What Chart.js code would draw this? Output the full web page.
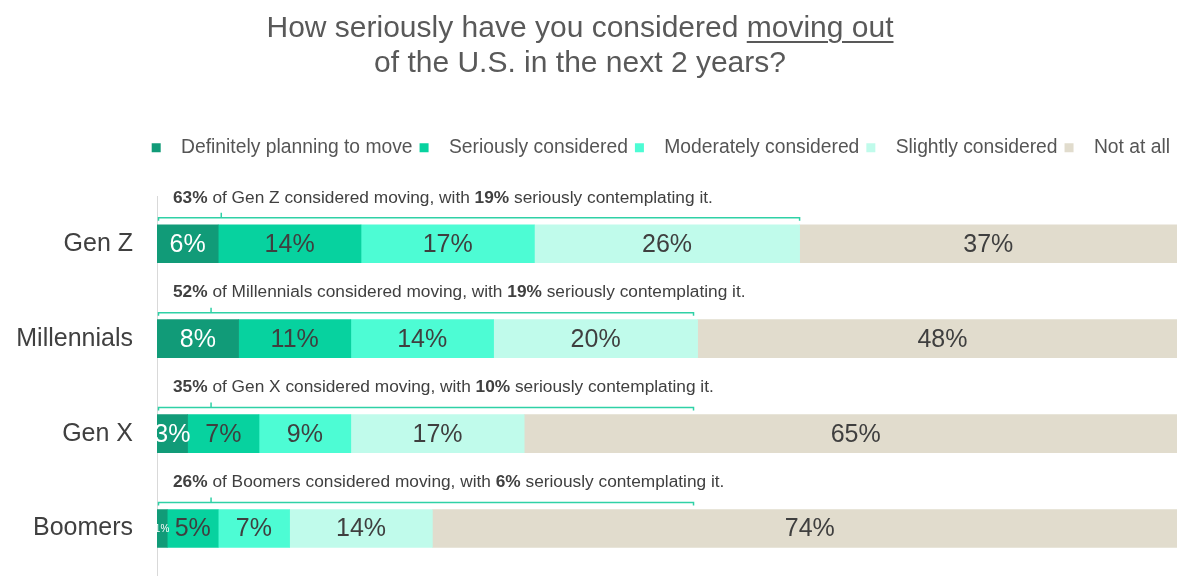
<!DOCTYPE html>
<html>
<head>
<meta charset="utf-8">
<script src="https://cdn.jsdelivr.net/npm/chart.js@4.4.1/dist/chart.umd.min.js"></script>
<style>
  html, body { margin: 0; padding: 0; background: #fff; overflow: hidden; }
  #wrap { position: relative; width: 1200px; height: 576px; }
  #title {
    position: absolute; left: 0; top: 9px; width: 1160px;
    text-align: center; font-family: "Liberation Sans", Arial, sans-serif;
    font-size: 30px; line-height: 35px; color: #595959;
  }
  #title u { text-decoration-thickness: 2px; text-underline-offset: 4px; }
  #moveChart { display: block; }
</style>
</head>
<body>
<div id="wrap">
  <div id="title">How seriously have you considered <u>moving out</u><br>of the U.S. in the next 2 years?</div>
  <canvas id="moveChart" width="1200" height="576"></canvas>
</div>
<script>
// data (percent of each generation)
const generations = ["Gen Z", "Millennials", "Gen X", "Boomers"];
const answers = ["Definitely planning to move", "Seriously considered", "Moderately considered", "Slightly considered", "Not at all"];
const definitely = [6, 8, 3, 1];
const seriously = [14, 11, 7, 5];
const moderately = [17, 14, 9, 7];
const slightly = [26, 20, 17, 14];
const notAtAll = [37, 48, 65, 74];
const consideredTotal = [63, 52, 35, 26];
const seriousTotal = [19, 19, 10, 6];
const groupNames = ["Gen Z", "Millennials", "Gen X", "Boomers"];

// bracket over each bar, in % of the axis
const bracketEnd = [63, 52.6, 52.6, 52.6];
const bracketTick = [6.3, 5.3, 5.3, 5.3];

const colors = ["#119b78", "#07d29f", "#4dfcd4", "#c0fbeb", "#e1dccd"];
const FONT = "'Liberation Sans', Arial, sans-serif";

Chart.defaults.font.family = FONT;

//labels inside the segments
const segmentLabels = {
  id: "segmentLabels",
  afterDatasetsDraw(chart) {
    const ctx = chart.ctx;
    const area = chart.chartArea;
    ctx.save();
    ctx.beginPath();
    ctx.rect(area.left, area.top, area.right - area.left, area.bottom - area.top);
    ctx.clip();
    ctx.textAlign = "center";
    ctx.textBaseline = "middle";
    chart.data.datasets.forEach((ds, d) => {
      chart.getDatasetMeta(d).data.forEach((bar, i) => {
        const w = Math.abs(bar.x - bar.base);
        ctx.font = (w < 15 ? "10px " : "25px ") + FONT;
        ctx.fillStyle = d === 0 ? "#ffffff" : "#3f3f3f";
        ctx.fillText(ds.data[i] + "%", (bar.x + bar.base) / 2, bar.y + 1);
      });
    });
    ctx.restore();
  },
};

//note + bracket above each bar
const notes = {
  id: "notes",
  afterDatasetsDraw(chart) {
    const ctx = chart.ctx;
    const x = chart.scales.x;
    const y = chart.scales.y;
    ctx.save();
    generations.forEach((g, i) => {
      const cy = y.getPixelForValue(i);
      const x0 = x.getPixelForValue(0);

      // bracket
      const ly = cy - 26;
      const x1 = x.getPixelForValue(bracketEnd[i]);
      const xt = x.getPixelForValue(bracketTick[i]);
      ctx.strokeStyle = "#2fd1a6";
      ctx.lineWidth = 1.5;
      ctx.beginPath();
      ctx.moveTo(x0 + 1.5, ly + 3);
      ctx.lineTo(x0 + 1.5, ly);
      ctx.lineTo(x1, ly);
      ctx.lineTo(x1, ly + 3);
      ctx.moveTo(xt, ly);
      ctx.lineTo(xt, ly - 5);
      ctx.stroke();

      // text, bold numbers
      const parts = [
        [consideredTotal[i] + "%", true],
        [" of " + groupNames[i] + " considered moving, with ", false],
        [seriousTotal[i] + "%", true],
        [" seriously contemplating it.", false],
      ];
      let tx = x0 + 16;
      ctx.fillStyle = "#404040";
      ctx.textBaseline = "middle";
      ctx.textAlign = "left";
      parts.forEach(([t, bold]) => {
        ctx.font = (bold ? "bold " : "") + "17.3px " + FONT;
        ctx.fillText(t, tx, cy - 46);
        tx += ctx.measureText(t).width;
      });
    });
    ctx.restore();
  },
};

//push the plot down below the legend
const legendGap = {
  id: "legendGap",
  beforeInit(chart) {
    const fit = chart.legend.fit;
    chart.legend.fit = function () {
      fit.bind(chart.legend)();
      this.height += 29;
    };
  },
};

const seriesData = [definitely, seriously, moderately, slightly, notAtAll];

let moveChart = new Chart(document.getElementById("moveChart").getContext("2d"), {
  type: "bar",
  data: {
    labels: generations,
    datasets: answers.map((a, k) => ({
      label: a,
      data: seriesData[k],
      backgroundColor: colors[k],
      borderWidth: 0,
      barThickness: 38,
    })),
  },
  options: {
    indexAxis: "y",
    responsive: false,
    animation: false,
    devicePixelRatio: 1,
    layout: { autoPadding: false, padding: { top: 131, left: 14, right: 23, bottom: 0 } },
    scales: {
      x: { stacked: true, min: 0, max: 100, display: false },
      y: {
        stacked: true,
        grid: { display: false, drawTicks: false },
        border: { display: true, color: "#d9d9d9", width: 1 },
        ticks: { color: "#404040", font: { size: 25 }, padding: 24 },
        afterFit(scale) {
          scale.width = 143;
          scale.paddingTop = 0;
          scale.paddingBottom = 0;
        },
      },
    },
    plugins: {
      title: { display: false },
      tooltip: { enabled: false },
      legend: {
        position: "top",
        align: "end",
        labels: {
          boxWidth: 9,
          boxHeight: 9,
          padding: 7,
          color: "#555555",
          font: { size: 19.3 },
          generateLabels(chart) {
            return Chart.defaults.plugins.legend.labels.generateLabels(chart).map((item) => {
              item.text = "  " + item.text;
              return item;
            });
          },
        },
      },
    },
  },
  plugins: [segmentLabels, notes, legendGap],
});
</script>
</body>
</html>
